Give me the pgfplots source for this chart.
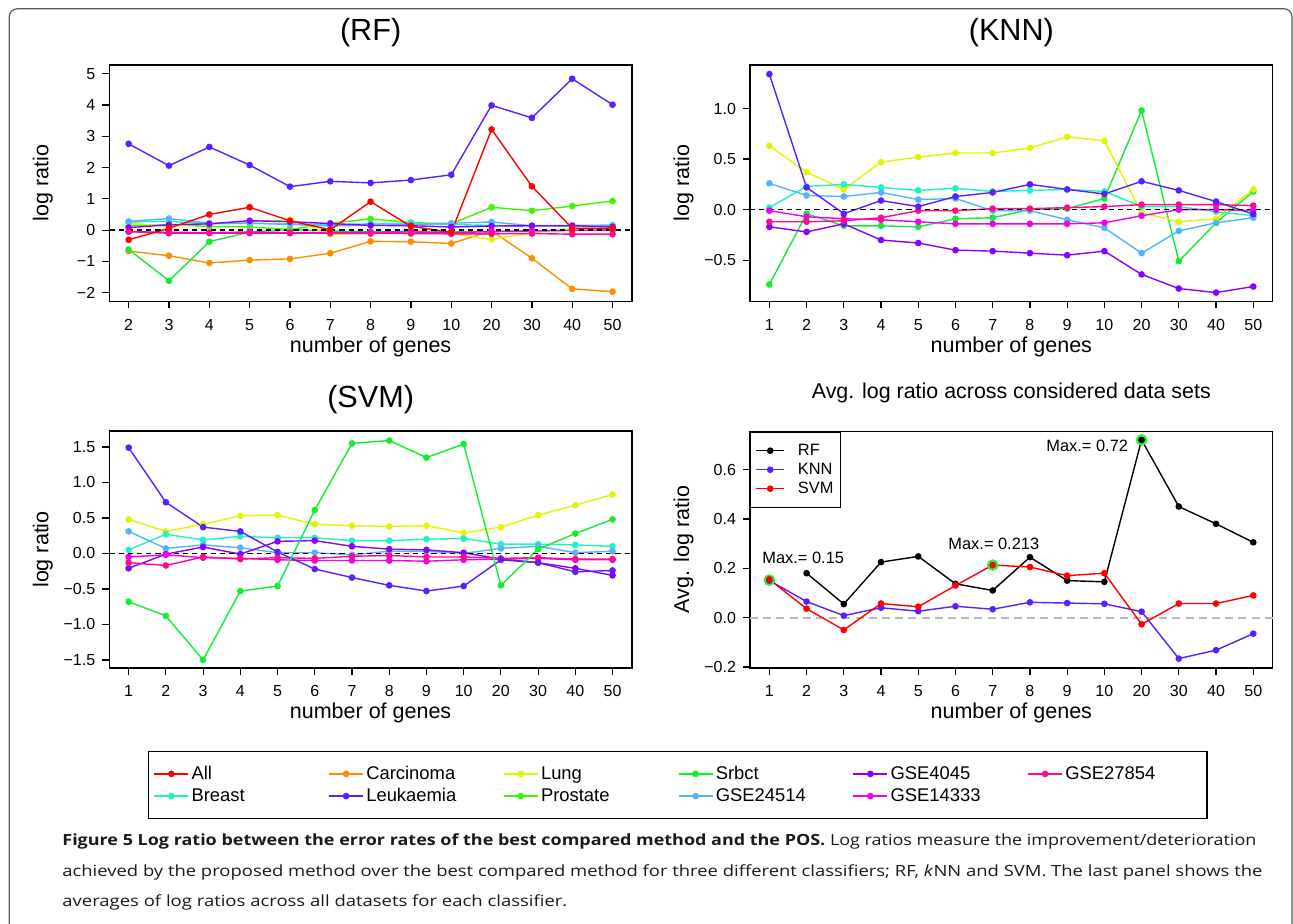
\documentclass[border=0pt]{standalone}
\usepackage{graphicx}
\usepackage{pgfplots}
\usepackage{pgfplotstable}
\pgfplotsset{compat=1.18}
\usepackage{fontspec}
\setmainfont{Liberation Sans}
\newfontfamily\capfont{Open Sans}

\definecolor{cAll}{HTML}{FF0000}
\definecolor{cBreast}{HTML}{1EF2C3}
\definecolor{cCarc}{HTML}{FF8C00}
\definecolor{cLeuk}{HTML}{5A1EFF}
\definecolor{cLung}{HTML}{E2F500}
\definecolor{cProst}{HTML}{3CF500}
\definecolor{cSrbct}{HTML}{10EE30}
\definecolor{cGa}{HTML}{52B4FF}
\definecolor{cGb}{HTML}{8A00FF}
\definecolor{cGc}{HTML}{F000F0}
\definecolor{cGd}{HTML}{FF0A8C}
\definecolor{ring}{HTML}{33EE33}

\pgfplotstableread{
x All Breast Carc Leuk Lung Prost Srbct Ga Gb Gc Gd
1 -0.31 0.26 -0.67 2.76 0.22 0.15 -0.62 0.28 0.08 -0.05 -0.05
2 0.06 0.28 -0.82 2.06 0.12 0.17 -1.62 0.37 0.17 -0.07 -0.10
3 0.50 0.20 -1.05 2.66 0.22 0.12 -0.37 0.22 0.20 -0.08 -0.10
4 0.73 0.22 -0.96 2.08 0.28 0.10 -0.06 0.22 0.30 -0.06 -0.10
5 0.30 0.20 -0.92 1.39 0.33 0.02 0.02 0.18 0.27 -0.08 -0.10
6 0.01 0.18 -0.74 1.56 -0.13 0.22 -0.03 0.13 0.21 -0.08 -0.10
7 0.91 0.20 -0.36 1.51 -0.10 0.36 -0.05 0.16 0.15 -0.07 -0.11
8 0.12 0.22 -0.37 1.60 -0.08 0.24 -0.04 0.17 0.14 -0.06 -0.11
9 -0.07 0.18 -0.43 1.77 -0.10 0.20 -0.05 0.22 0.10 -0.08 -0.12
10 3.22 0.15 -0.02 3.99 -0.30 0.73 -0.04 0.26 0.13 -0.05 -0.12
11 1.40 0.13 -0.90 3.59 -0.08 0.62 -0.02 0.14 0.14 -0.03 -0.11
12 0.06 0.12 -1.88 4.84 0.05 0.77 0.00 0.15 0.14 -0.01 -0.13
13 0.06 0.12 -1.97 4.01 0.05 0.93 0.00 0.16 0.10 0.00 -0.13
}\rfdata

\pgfplotstableread{
x Breast Leuk Lung Srbct Ga Gb Gc Gd
1 0.02 1.34 0.63 -0.74 0.26 -0.17 -0.01 -0.12
2 0.23 0.22 0.37 -0.04 0.14 -0.22 -0.07 -0.12
3 0.25 -0.04 0.20 -0.16 0.13 -0.14 -0.09 -0.11
4 0.22 0.09 0.47 -0.16 0.17 -0.30 -0.10 -0.08
5 0.19 0.03 0.52 -0.17 0.10 -0.33 -0.12 -0.01
6 0.21 0.13 0.56 -0.09 0.11 -0.40 -0.14 -0.01
7 0.18 0.17 0.56 -0.08 -0.01 -0.41 -0.14 0.01
8 0.19 0.25 0.61 0.00 -0.01 -0.43 -0.14 0.01
9 0.20 0.20 0.72 0.01 -0.10 -0.45 -0.14 0.02
10 0.18 0.155 0.68 0.11 -0.18 -0.41 -0.13 0.03
11 0.03 0.28 -0.03 0.98 -0.43 -0.64 -0.06 0.05
12 0.03 0.19 -0.12 -0.51 -0.21 -0.78 0.00 0.05
13 -0.02 0.08 -0.09 -0.13 -0.13 -0.82 0.00 0.05
14 -0.06 -0.045 0.20 0.18 -0.08 -0.76 -0.01 0.04
}\knndata

\pgfplotstableread{
x Breast Leuk Lung Srbct Ga Gb Gc Gd
1 0.05 1.49 0.48 -0.68 0.31 -0.21 -0.05 -0.13
2 0.27 0.72 0.31 -0.88 0.07 -0.01 -0.02 -0.17
3 0.19 0.37 0.41 -1.50 0.12 0.09 -0.06 -0.05
4 0.24 0.31 0.53 -0.53 0.08 -0.01 -0.07 -0.08
5 0.22 0.02 0.54 -0.46 0.01 0.17 -0.09 -0.06
6 0.22 -0.22 0.41 0.61 0.01 0.18 -0.10 -0.07
7 0.18 -0.34 0.39 1.55 -0.02 0.10 -0.10 -0.04
8 0.18 -0.45 0.38 1.59 0.03 0.06 -0.10 -0.03
9 0.20 -0.53 0.39 1.35 0.03 0.05 -0.11 -0.05
10 0.21 -0.46 0.29 1.54 0.00 0.01 -0.09 -0.05
11 0.13 -0.09 0.37 -0.45 0.07 -0.08 -0.08 -0.07
12 0.13 -0.13 0.54 0.06 0.10 -0.13 -0.07 -0.06
13 0.12 -0.26 0.68 0.28 0.01 -0.21 -0.09 -0.08
14 0.10 -0.24 0.83 0.48 0.03 -0.31 -0.09 -0.08
}\svmdata

\pgfplotstableread{
x KNN SVM
1 0.15 0.155
2 0.065 0.036
3 0.008 -0.05
4 0.04 0.057
5 0.026 0.044
6 0.046 0.13
7 0.034 0.213
8 0.062 0.205
9 0.059 0.17
10 0.056 0.18
11 0.024 -0.027
12 -0.166 0.057
13 -0.132 0.057
14 -0.065 0.09
}\avgdata

\pgfplotstableread{
x RF
2 0.18
3 0.055
4 0.225
5 0.248
6 0.137
7 0.11
8 0.245
9 0.15
10 0.145
11 0.72
12 0.45
13 0.38
14 0.305
}\avgrf

\pgfplotsset{
  rpanel/.style={scale only axis, width=261.3pt, height=118.2pt, anchor=south west,
    axis line style={line width=0.8pt}, tick align=outside,
    xtick pos=left, ytick pos=left,
    major tick length=3.5pt, tick style={line width=0.6pt, black},
    tick label style={font=\fontsize{8}{9.5}\selectfont},
    xticklabel style={yshift=-2pt},
    label style={font=\fontsize{10.75}{12}\selectfont},
    title style={font=\fontsize{15.3}{17}\selectfont, at={(axis description cs:0.5,1.0846)}, anchor=center},
    xlabel={number of genes},
    xlabel style={at={(axis description cs:0.5,-0.1924)}, anchor=center},
    ylabel={log ratio},
    ylabel style={at={(axis description cs:-0.127,0.5)}, anchor=center},
    clip=false,
  },
  x13/.style={xmin=0.52, xmax=13.48, xtick={1,...,13}, xticklabels={2,3,4,5,6,7,8,9,10,20,30,40,50}},
  x14/.style={xmin=0.48, xmax=14.52, xtick={1,...,14}, xticklabels={1,2,3,4,5,6,7,8,9,10,20,30,40,50}},
  ser/.style={line width=0.7pt, mark=*, mark size=1.3pt, mark options={solid}},
  zero/.style={black, dashed, line width=0.8pt, dash pattern=on 2.6pt off 2pt, no marks},
}

\begin{document}
\begin{tikzpicture}
\useasboundingbox (0,0) rectangle (646.5pt,461.5pt);
\draw[black!65, line width=0.6pt, rounded corners=4pt] (4.6pt,-8pt) -- (4.6pt,457.1pt) -- (646pt,457.1pt) -- (646pt,-8pt);

% ---------------- RF
\begin{axis}[rpanel, x13, at={(54.65pt,310.8pt)}, title={(RF)},
  ymin=-2.28, ymax=5.28, ytick={-2,...,5}, yticklabels={−2,−1,0,1,2,3,4,5}]
\addplot[ser, cCarc] table[x=x,y=Carc]{\rfdata};
\addplot[ser, cSrbct] table[x=x,y=Srbct]{\rfdata};
\addplot[ser, cProst] table[x=x,y=Prost]{\rfdata};
\addplot[ser, cLung] table[x=x,y=Lung]{\rfdata};
\addplot[ser, cBreast] table[x=x,y=Breast]{\rfdata};
\addplot[ser, cGa] table[x=x,y=Ga]{\rfdata};
\addplot[ser, cGb] table[x=x,y=Gb]{\rfdata};
\addplot[ser, cGc] table[x=x,y=Gc]{\rfdata};
\addplot[ser, cGd] table[x=x,y=Gd]{\rfdata};
\addplot[ser, cAll] table[x=x,y=All]{\rfdata};
\addplot[ser, cLeuk] table[x=x,y=Leuk]{\rfdata};
\addplot[zero] coordinates {(0.52,0) (13.48,0)};
\end{axis}

% ---------------- KNN
\begin{axis}[rpanel, x14, at={(375pt,310.8pt)}, title={(KNN)},
  ymin=-0.907, ymax=1.43, ytick={-0.5,0,0.5,1}, yticklabels={−0.5,0.0,0.5,1.0}]
\addplot[ser, cSrbct] table[x=x,y=Srbct]{\knndata};
\addplot[ser, cLung] table[x=x,y=Lung]{\knndata};
\addplot[ser, cBreast] table[x=x,y=Breast]{\knndata};
\addplot[ser, cGa] table[x=x,y=Ga]{\knndata};
\addplot[ser, cGb] table[x=x,y=Gb]{\knndata};
\addplot[ser, cGc] table[x=x,y=Gc]{\knndata};
\addplot[ser, cGd] table[x=x,y=Gd]{\knndata};
\addplot[ser, cLeuk] table[x=x,y=Leuk]{\knndata};
\addplot[zero] coordinates {(0.48,0) (14.52,0)};
\end{axis}

% ---------------- SVM
\begin{axis}[rpanel, x14, at={(54.65pt,127.65pt)}, title={(SVM)},
  ymin=-1.61, ymax=1.72, ytick={-1.5,-1,-0.5,0,0.5,1,1.5}, yticklabels={−1.5,−1.0,−0.5,0.0,0.5,1.0,1.5}]
\addplot[ser, cLung] table[x=x,y=Lung]{\svmdata};
\addplot[ser, cBreast] table[x=x,y=Breast]{\svmdata};
\addplot[ser, cGa] table[x=x,y=Ga]{\svmdata};
\addplot[ser, cGb] table[x=x,y=Gb]{\svmdata};
\addplot[ser, cGc] table[x=x,y=Gc]{\svmdata};
\addplot[ser, cGd] table[x=x,y=Gd]{\svmdata};
\addplot[ser, cLeuk] table[x=x,y=Leuk]{\svmdata};
\addplot[ser, cSrbct] table[x=x,y=Srbct]{\svmdata};
\addplot[zero] coordinates {(0.48,0) (14.52,0)};
\end{axis}

% ---------------- Average
\begin{axis}[rpanel, x14, at={(375pt,127.65pt)}, title={Avg. log ratio across considered data sets},
  title style={font=\fontsize{10.7}{12}\selectfont, at={(axis description cs:0.5,1.11)}},
  ylabel={Avg. log ratio},
  ymin=-0.203, ymax=0.755, ytick={-0.2,0,0.2,0.4,0.6}, yticklabels={−0.2,0.0,0.2,0.4,0.6},
  legend cell align=left,
  legend image code/.code={\draw[mark repeat=2,mark phase=2,#1] plot coordinates {(0pt,0pt) (7pt,0pt) (14pt,0pt)};},
  legend style={at={(0,1)}, anchor=north west, draw=black, line width=0.7pt,
    font=\fontsize{8.2}{9}\selectfont, inner xsep=2.4pt, inner ysep=4.6pt,
    nodes={inner sep=1pt, text height=6pt, text depth=1.5pt}}]
\addplot[gray!55, dashed, line width=0.9pt, dash pattern=on 4pt off 2.6pt, no marks, forget plot] coordinates {(0.48,0) (14.52,0)};
\addplot[only marks, mark=*, mark size=2.7pt, ring, forget plot] coordinates {(1,0.152) (7,0.213) (11,0.72)};
\addplot[ser, black] table[x=x,y=RF]{\avgrf};
\addlegendentry{\hspace*{5.5pt}RF}
\addplot[ser, cLeuk] table[x=x,y=KNN]{\avgdata};
\addlegendentry{\hspace*{5.5pt}KNN}
\addplot[ser, cAll] table[x=x,y=SVM]{\avgdata};
\addlegendentry{\hspace*{5.5pt}SVM}
\node[font=\fontsize{8.2}{9}\selectfont, anchor=center] at (axis cs:1.91,0.243) {Max.= 0.15};
\node[font=\fontsize{8.2}{9}\selectfont, anchor=center] at (axis cs:7.03,0.30) {Max.= 0.213};
\node[font=\fontsize{8.2}{9}\selectfont, anchor=center] at (axis cs:9.54,0.696) {Max.= 0.72};
\end{axis}

% ---------------- common legend
\begin{axis}[at={(74pt,52pt)}, anchor=south west, scale only axis, width=525pt, height=34pt,
  hide axis, xmin=0, xmax=1, ymin=0, ymax=1,
  legend columns=6, legend cell align=left,
  legend style={at={(0,1)}, anchor=north west, draw=black, line width=0.6pt,
    font=\fontsize{9.2}{10}\selectfont, inner xsep=2.5pt, inner ysep=5.6pt,
    nodes={inner sep=1.2pt, text height=7pt, text depth=1.7pt}}]
\addlegendimage{ser, cAll}\addlegendentry{\makebox[67.2pt][l]{All}}
\addlegendimage{ser, cCarc}\addlegendentry{\makebox[67.2pt][l]{Carcinoma}}
\addlegendimage{ser, cLung}\addlegendentry{\makebox[67.2pt][l]{Lung}}
\addlegendimage{ser, cSrbct}\addlegendentry{\makebox[67.2pt][l]{Srbct}}
\addlegendimage{ser, cGb}\addlegendentry{\makebox[67.2pt][l]{GSE4045}}
\addlegendimage{ser, cGd}\addlegendentry{\makebox[67.2pt][l]{GSE27854}}
\addlegendimage{ser, cBreast}\addlegendentry{\makebox[67.2pt][l]{Breast}}
\addlegendimage{ser, cLeuk}\addlegendentry{\makebox[67.2pt][l]{Leukaemia}}
\addlegendimage{ser, cProst}\addlegendentry{\makebox[67.2pt][l]{Prostate}}
\addlegendimage{ser, cGa}\addlegendentry{\makebox[67.2pt][l]{GSE24514}}
\addlegendimage{ser, cGc}\addlegendentry{\makebox[67.2pt][l]{GSE14333}}
\end{axis}

% ---------------- caption
\node[anchor=base west, inner sep=0pt, text=black!90] at (31pt,39pt) {\resizebox{597pt}{5.9pt}{\capfont\textbf{Figure 5 Log ratio between the error rates of the best compared method and the POS.} Log ratios measure the improvement/deterioration}};
\node[anchor=base west, inner sep=0pt, text=black!90] at (31pt,23.5pt) {\resizebox{600pt}{5.9pt}{\capfont achieved by the proposed method over the best compared method for three different classifiers; RF, \textit{k}NN and SVM. The last panel shows the}};
\node[anchor=base west, inner sep=0pt, text=black!90] at (31pt,8.2pt) {\resizebox{252.5pt}{5.9pt}{\capfont averages of log ratios across all datasets for each classifier.}};
\end{tikzpicture}
\end{document}
